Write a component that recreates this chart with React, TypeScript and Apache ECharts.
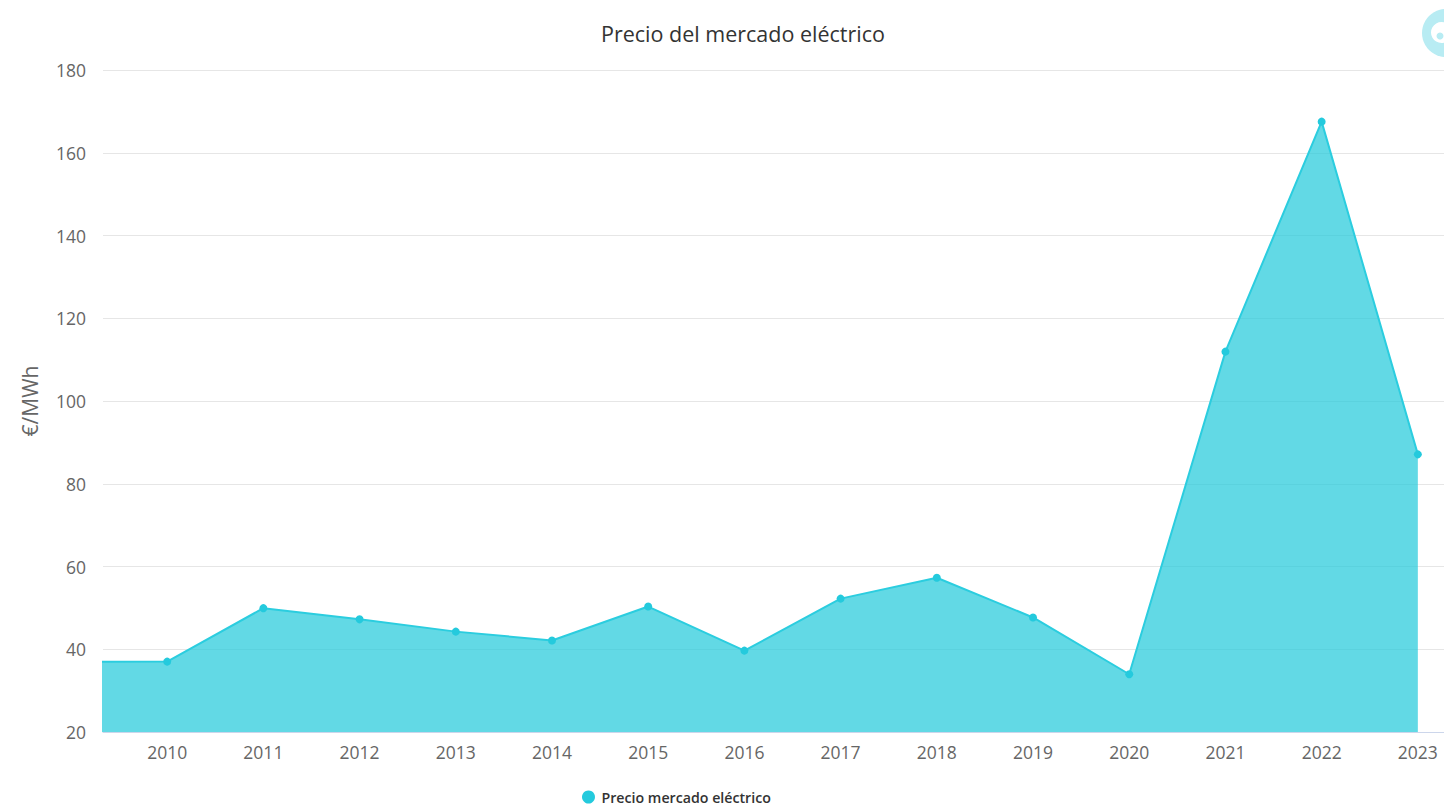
import React, { useEffect, useRef } from "react";
import * as echarts from "echarts";

const years = [2009, 2010, 2011, 2012, 2013, 2014, 2015, 2016, 2017, 2018, 2019, 2020, 2021, 2022, 2023];
const prices = [36.96, 37.01, 49.93, 47.23, 44.26, 42.13, 50.32, 39.67, 52.24, 57.29, 47.68, 33.96, 111.93, 167.52, 87.1];
const seriesName = "Precio mercado eléctrico";
const titleText = "Precio del mercado eléctrico";
const yAxisName = "€/MWh";

export default function App() {
  const ref = useRef<HTMLDivElement>(null);
  useEffect(() => {
    if (!ref.current) return;
    const chart = echarts.init(ref.current, null, { renderer: "svg" });
    const font = "'Open Sans', sans-serif";
    chart.setOption({
      animation: false,
      title: {
        text: titleText,
        left: 738,
        top: 17,
        textAlign: "center",
        textStyle: { fontFamily: font, fontSize: 21.5, fontWeight: "normal", color: "#333" },
      },
      grid: { left: 103, right: 0, top: 70, bottom: 74, containLabel: false },
      legend: {
        bottom: -3,
        left: 577,
        itemWidth: 16,
        itemHeight: 13,
        icon: "circle",
        textStyle: { fontFamily: font, fontSize: 14.2, fontWeight: 600, color: "#333" },
        data: [seriesName],
      },
      xAxis: {
        type: "value",
        min: 2009.333,
        max: 2023.355,
        splitNumber: 14,
        axisLine: { show: true, lineStyle: { color: "#ccd6eb", width: 1 } },
        axisTick: { show: false },
        splitLine: { show: false },
        axisLabel: {
          showMinLabel: false,
          showMaxLabel: false,
          margin: 11,
          fontFamily: font,
          fontSize: 17.5,
          color: "#666",
          formatter: (v: number) => (Math.abs(v - Math.round(v)) < 0.001 ? String(Math.round(v)) : ""),
        },
      },
      yAxis: {
        type: "value",
        min: 20,
        max: 180,
        interval: 20,
        name: yAxisName,
        nameLocation: "middle",
        nameGap: 63,
        nameTextStyle: { fontFamily: font, fontSize: 21, color: "#666" },
        axisLine: { show: false },
        axisTick: { show: false },
        splitLine: { lineStyle: { color: "#e6e6e6", width: 1 } },
        axisLabel: { margin: 17, fontFamily: font, fontSize: 17.5, color: "#666" },
      },
      series: [
        {
          name: seriesName,
          type: "line",
          data: years.map((y, i) => [y, prices[i]]),
          symbol: "circle",
          symbolSize: 8,
          showSymbol: true,
          clip: true,
          itemStyle: { color: "#24cadd" },
          lineStyle: { color: "#2bcddf", width: 2 },
          areaStyle: { color: "rgb(32,201,218)", opacity: 0.7, origin: "start" },
        },
      ],
      graphic: [
        {
          type: "circle",
          shape: { cx: 1446, cy: 33, r: 24 },
          style: { fill: "#b8ecf3" },
          silent: true,
        },
        {
          type: "circle",
          shape: { cx: 1441.5, cy: 32.5, r: 10.5 },
          style: { fill: "#ffffff" },
          silent: true,
        },
        {
          type: "circle",
          shape: { cx: 1440, cy: 36, r: 3.5 },
          style: { fill: "#b8ecf3" },
          silent: true,
        },
      ],
    });
    return () => chart.dispose();
  }, []);
  return <div ref={ref} style={{ width: 1452, height: 806, marginLeft: -8, marginTop: -8 }} />;
}
